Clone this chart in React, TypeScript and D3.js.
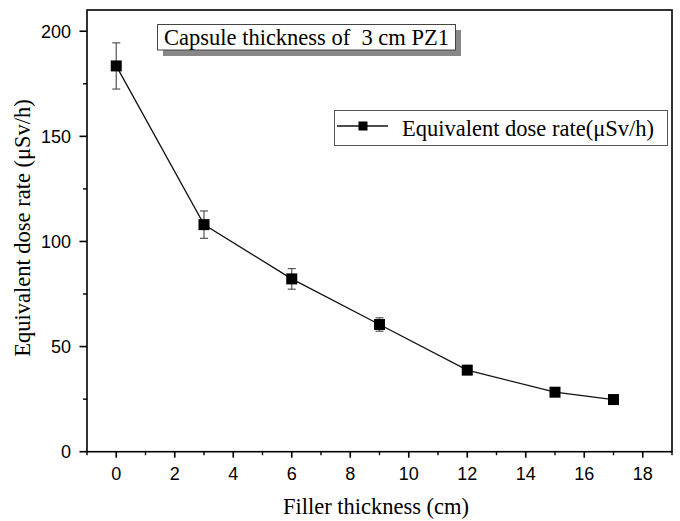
import React from "react";
import * as d3 from "d3";

const xValues = [0, 3, 6, 9, 12, 15, 17];
const doseRates = [183.5, 108, 82.2, 60.5, 38.8, 28.3, 24.8];
const errors = [11, 6.5, 4.9, 3.2, 1.2, 0.8, 0.6];
const xTicks = [0, 2, 4, 6, 8, 10, 12, 14, 16, 18];
const yTicks = [0, 50, 100, 150, 200];
const xMinor = [-1, 1, 3, 5, 7, 9, 11, 13, 15, 17, 19];
const yMinor = [25, 75, 125, 175];

const W = 680, H = 521;
const L = 87, R = 672, T = 10, B = 451.7;

export default function App() {
  const x = d3.scaleLinear().domain([-1, 19]).range([L, R]);
  const y = d3.scaleLinear().domain([0, 210.1]).range([B, T]);
  const line = d3.line<number>().x((_, i) => x(xValues[i])).y((d) => y(d));
  const serif = "'Liberation Serif', 'Times New Roman', serif";
  const sans = "'Liberation Sans', Arial, sans-serif";
  return (
    <svg width={W} height={H} style={{ position: "absolute", left: 0, top: 0, background: "#fff" }}>
      <rect x={0} y={0} width={W} height={H} fill="#fff" />
      {/* error bars */}
      {xValues.map((xv, i) => {
        const cx = x(xv);
        const y1 = y(doseRates[i] + errors[i]);
        const y2 = y(doseRates[i] - errors[i]);
        return (
          <g key={"e" + i} stroke="#555" strokeWidth={1.2}>
            <line x1={cx} x2={cx} y1={y1} y2={y2} />
            <line x1={cx - 4} x2={cx + 4} y1={y1} y2={y1} />
            <line x1={cx - 4} x2={cx + 4} y1={y2} y2={y2} />
          </g>
        );
      })}
      <path d={line(doseRates) || ""} fill="none" stroke="#111" strokeWidth={1.3} />
      {xValues.map((xv, i) => (
        <rect key={"m" + i} x={x(xv) - 5.5} y={y(doseRates[i]) - 5.5} width={11} height={11} fill="#000" />
      ))}
      {/* frame */}
      <rect x={L} y={T} width={R - L} height={B - T} fill="none" stroke="#000" strokeWidth={1.6} />
      {/* x ticks */}
      {xTicks.map((t) => (
        <g key={"xt" + t}>
          <line x1={x(t)} x2={x(t)} y1={B} y2={B + 6} stroke="#000" strokeWidth={1.6} />
          <text x={x(t)} y={B + 28} textAnchor="middle" fontFamily={sans} fontSize={18}>{t}</text>
        </g>
      ))}
      {xMinor.map((t) => (
        <line key={"xm" + t} x1={x(t)} x2={x(t)} y1={B} y2={B + 3.5} stroke="#000" strokeWidth={1.4} />
      ))}
      {yTicks.map((t) => (
        <g key={"yt" + t}>
          <line x1={L - 7.5} x2={L} y1={y(t)} y2={y(t)} stroke="#000" strokeWidth={1.6} />
          <text x={L - 16} y={y(t) + 6.5} textAnchor="end" fontFamily={sans} fontSize={18}>{t}</text>
        </g>
      ))}
      {yMinor.map((t) => (
        <line key={"ym" + t} x1={L - 4} x2={L} y1={y(t)} y2={y(t)} stroke="#000" strokeWidth={1.4} />
      ))}
      {/* axis titles */}
      <text x={376} y={514} textAnchor="middle" fontFamily={serif} fontSize={22.5}>Filler thickness (cm)</text>
      <text transform="translate(29.5,228) rotate(-90)" textAnchor="middle" fontFamily={serif} fontSize={22.5}>
        Equivalent dose rate (μSv/h)
      </text>
      {/* title box */}
      <rect x={163} y={30} width={298} height={26} fill="#888" />
      <rect x={157.5} y={24.5} width={298} height={25.5} fill="#fff" stroke="#444" strokeWidth={1} />
      <text x={306.5} y={44.5} textAnchor="middle" fontFamily={serif} fontSize={22.5} xmlSpace="preserve">Capsule thickness of  3 cm PZ1</text>
      {/* legend */}
      <rect x={334.5} y={110.5} width={333} height={35} fill="#fff" stroke="#555" strokeWidth={1} />
      <line x1={337} x2={388} y1={126} y2={126} stroke="#111" strokeWidth={1.3} />
      <rect x={358.5} y={121.5} width={9} height={9} fill="#000" />
      <text x={402} y={135.5} fontFamily={serif} fontSize={22.5}>Equivalent dose rate(μSv/h)</text>
    </svg>
  );
}
